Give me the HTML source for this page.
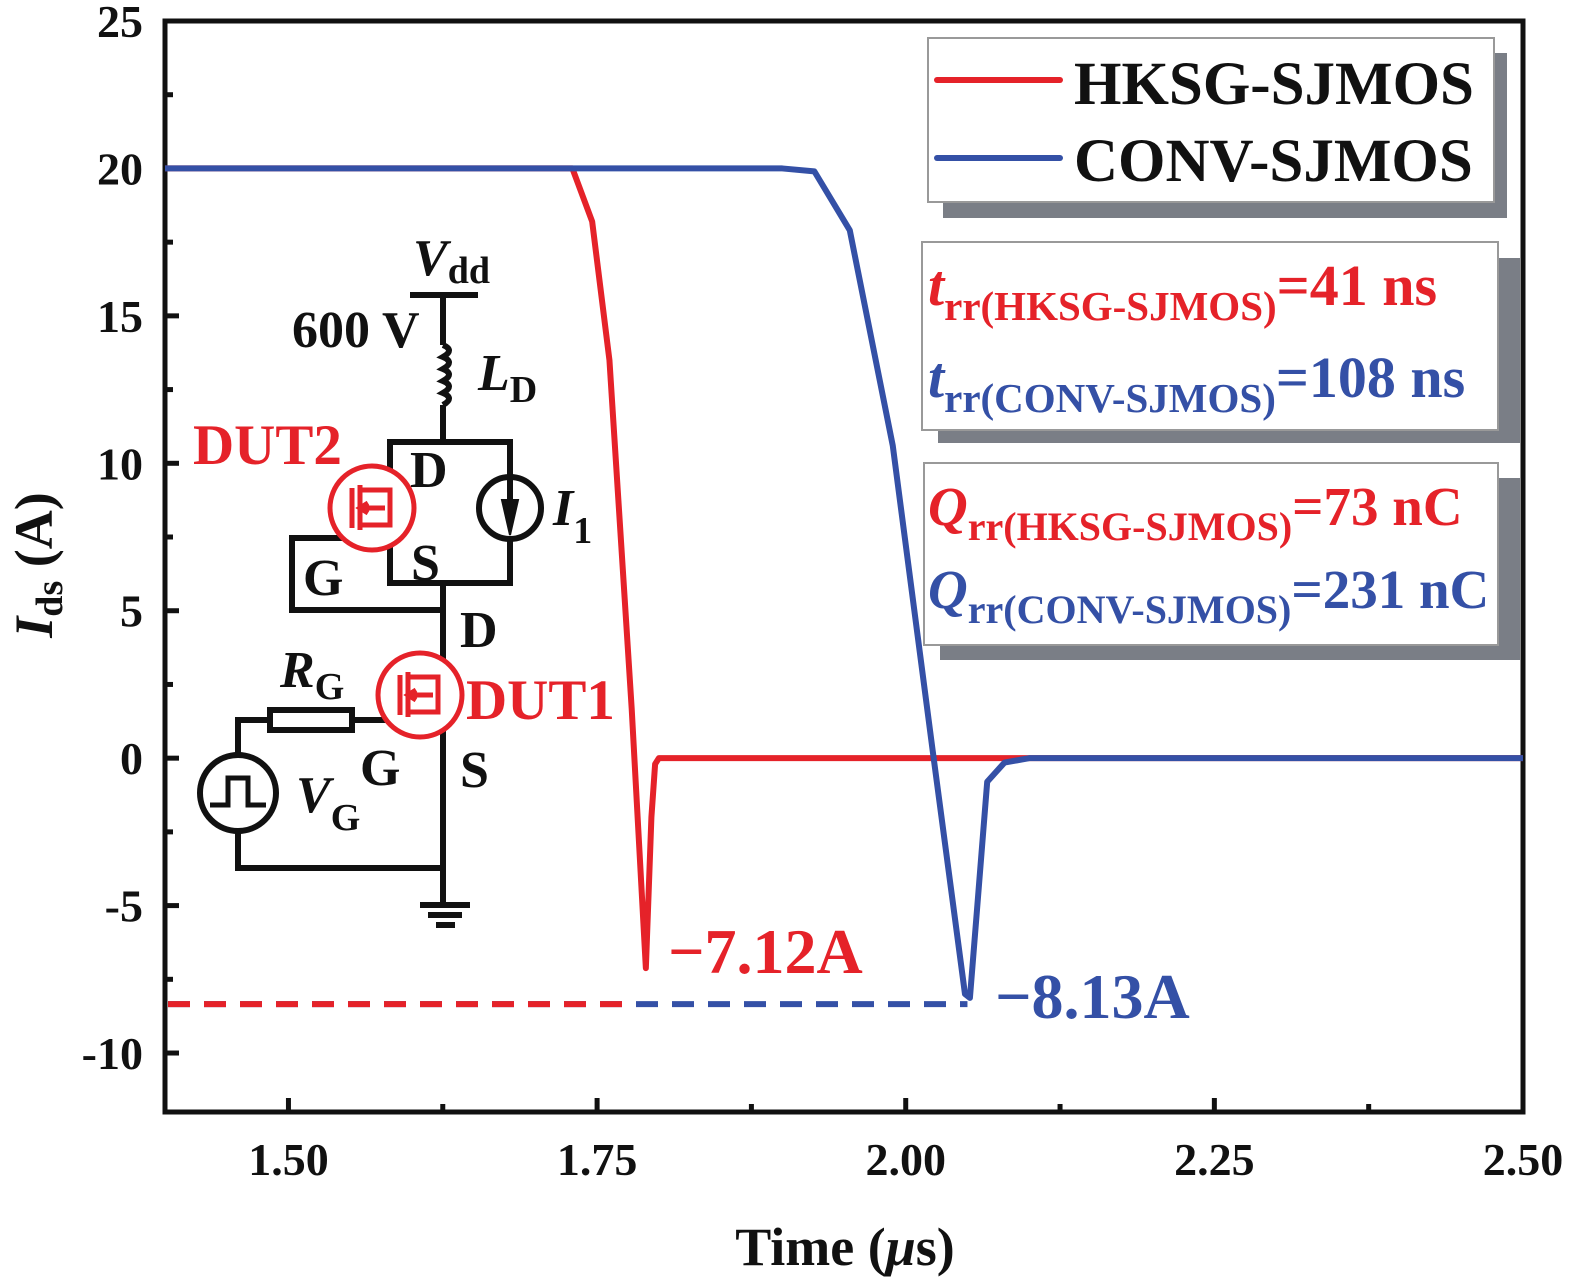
<!DOCTYPE html>
<html><head><meta charset="utf-8"><style>
body{margin:0;background:#fff;}
svg{display:block;font-family:"Liberation Serif",serif;font-weight:bold;}
</style></head><body>
<svg id="chart" width="1575" height="1285" viewBox="0 0 1575 1285">
<g id="axes"></g>
<g id="series"></g>
<g id="circuit" stroke="#111" stroke-width="6" fill="none">
  <line x1="410" y1="295" x2="478" y2="295"/>
  <line x1="443" y1="295" x2="443" y2="345"/>
  <path d="M443 345 q12 5 0 12 q12 5 0 12 q12 5 0 12 q12 5 0 12 q12 5 0 12" />
  <line x1="443" y1="405" x2="443" y2="442"/>
  <path d="M390 442 H510 V583 H390 Z"/>
  <line x1="443" y1="583" x2="443" y2="905"/>
  <path d="M345 538 H292 V610 H443"/>
  <circle cx="510" cy="508" r="31" fill="#fff"/>
  <line x1="510" y1="477" x2="510" y2="515"/>
  <path d="M502 500 L510 535 L518 500 Z" fill="#111" stroke-width="2"/>
  <path d="M390 720 H352 M270 720 H238 V755"/>
  <rect x="270" y="710" width="82" height="20"/>
  <circle cx="238" cy="793" r="38"/>
  <path d="M210 805 H228 V778 H248 V805 H266" stroke-width="5"/>
  <path d="M238 831 V868 H443"/>
  <line x1="420" y1="905" x2="470" y2="905"/>
  <line x1="428" y1="915" x2="462" y2="915"/>
  <line x1="436" y1="925" x2="455" y2="925"/>
  <g stroke="#e52229" stroke-width="5">
    <circle cx="372" cy="508" r="42" fill="#fff"/>
    <path d="M352 488 V528 M360 485 V530 M360 490 H390 V525 H360 M360 508 H385 M368 503 L360 508 L368 513"/>
    <circle cx="420" cy="695" r="42" fill="#fff"/>
    <path d="M400 675 V715 M408 672 V717 M408 677 H438 V712 H408 M408 695 H433 M416 690 L408 695 L416 700"/>
  </g>
</g>
<g font-size="52" fill="#111">
  <text x="413" y="275" font-style="italic">V<tspan font-style="normal" font-size="38" dy="8">dd</tspan></text>
  <text x="292" y="347">600 V</text>
  <text x="478" y="390" font-style="italic">L<tspan font-style="normal" font-size="38" dy="12">D</tspan></text>
  <text x="410" y="487">D</text>
  <text x="411" y="580">S</text>
  <text x="303" y="595">G</text>
  <text x="553" y="525" font-style="italic">I<tspan font-style="normal" font-size="38" dy="18">1</tspan></text>
  <text x="460" y="647">D</text>
  <text x="460" y="787">S</text>
  <text x="360" y="785">G</text>
  <text x="280" y="687" font-style="italic">R<tspan font-style="normal" font-size="38" dy="12">G</tspan></text>
  <text x="296" y="812" font-style="italic">V<tspan font-style="normal" font-size="38" dy="18">G</tspan></text>
  <text x="193" y="464" fill="#e52229" font-size="57">DUT2</text>
  <text x="466" y="719" fill="#e52229" font-size="57">DUT1</text>
  <text x="668" y="973" fill="#e52229" font-size="64">−7.12A</text>
  <text x="995" y="1018" fill="#3450a6" font-size="64">−8.13A</text>
</g>
<g>
  <rect x="943" y="53" width="564" height="165" fill="#7a7e86"/>
  <rect x="928" y="38" width="566" height="164" fill="#fff" stroke="#999" stroke-width="2"/>
  <line x1="937" y1="80" x2="1060" y2="80" stroke="#e52229" stroke-width="6" stroke-linecap="round"/>
  <line x1="937" y1="158" x2="1060" y2="158" stroke="#3450a6" stroke-width="6" stroke-linecap="round"/>
  <text x="1074" y="104" font-size="61" fill="#111">HKSG-SJMOS</text>
  <text x="1074" y="181" font-size="61" fill="#111">CONV-SJMOS</text>
</g>
<g font-size="58">
  <rect x="938" y="258" width="582" height="185" fill="#7a7e86"/>
  <rect x="922" y="242" width="576" height="188" fill="#fff" stroke="#999" stroke-width="2"/>
  <text x="928" y="305" fill="#e52229"><tspan font-style="italic">t</tspan><tspan font-size="41" dy="15">rr(HKSG-SJMOS)</tspan><tspan dy="-15">=41 ns</tspan></text>
  <text x="928" y="397" fill="#3450a6"><tspan font-style="italic">t</tspan><tspan font-size="41" dy="15">rr(CONV-SJMOS)</tspan><tspan dy="-15">=108 ns</tspan></text>
</g>
<g font-size="55">
  <rect x="940" y="478" width="580" height="182" fill="#7a7e86"/>
  <rect x="924" y="463" width="574" height="182" fill="#fff" stroke="#999" stroke-width="2"/>
  <text x="928" y="525" fill="#e52229"><tspan font-style="italic">Q</tspan><tspan font-size="40" dy="15">rr(HKSG-SJMOS)</tspan><tspan dy="-15">=73 nC</tspan></text>
  <text x="928" y="608" fill="#3450a6"><tspan font-style="italic">Q</tspan><tspan font-size="40" dy="15">rr(CONV-SJMOS)</tspan><tspan dy="-15">=231 nC</tspan></text>
</g>
</svg>
<script>
const redT = [1.40, 1.730, 1.746, 1.760, 1.778, 1.7895, 1.794, 1.797, 1.80, 2.50];
const redV = [20, 20, 18.2, 13.5, 1.7, -7.12, -2, -0.2, 0, 0];
const blueT = [1.40, 1.90, 1.926, 1.9547, 1.9895, 2.022, 2.048, 2.052, 2.058, 2.066, 2.08, 2.10, 2.50];
const blueV = [20, 20, 19.9, 17.9, 10.6, 0.2, -8.0, -8.13, -5, -0.8, -0.15, 0, 0];
const dashedLevel = -8.34;
const dashedRedEnd = 1.78;
const dashedBlueEnd = 2.05;
const xTicks = [1.50, 1.75, 2.00, 2.25, 2.50];
const xTickLabels = ["1.50", "1.75", "2.00", "2.25", "2.50"];
const yTicks = [-10, -5, 0, 5, 10, 15, 20, 25];
const yTickLabels = ["-10", "-5", "0", "5", "10", "15", "20", "25"];

const L = 165, R = 1523, T = 21, B = 1112;
const xMin = 1.40, xMax = 2.50, yMin = -12, yMax = 25;
const sx = t => L + (t - xMin) / (xMax - xMin) * (R - L);
const sy = v => B - (v - yMin) / (yMax - yMin) * (B - T);
const NS = "http://www.w3.org/2000/svg";
const axes = document.getElementById('axes');
const series = document.getElementById('series');
function mk(tag, parent, attrs) {
  const e = document.createElementNS(NS, tag);
  for (const k in attrs) e.setAttribute(k, attrs[k]);
  parent.appendChild(e);
  return e;
}
xTicks.forEach((t, i) => {
  const ln = mk('line', axes, {x1: sx(t), x2: sx(t), y1: B, y2: B - 14, stroke: '#111', 'stroke-width': 5});
  
  
  const tx = mk('text', axes, {x: sx(t), y: B + 63, 'text-anchor': 'middle', 'font-size': 46, fill: '#111'});
  tx.textContent = xTickLabels[i];
  
  
  if (i > 0) {
    const m = (xTicks[i] + xTicks[i - 1]) / 2;
    const mn = mk('line', axes, {x1: sx(m), x2: sx(m), y1: B, y2: B - 8, stroke: '#111', 'stroke-width': 5});
    
    
  }
});
yTicks.forEach((v, i) => {
  const ln = mk('line', axes, {x1: L, x2: L + 14, y1: sy(v), y2: sy(v), stroke: '#111', 'stroke-width': 5});
  
  
  const tx = mk('text', axes, {x: 143, y: sy(v) + 16, 'text-anchor': 'end', 'font-size': 46, fill: '#111'});
  tx.textContent = yTickLabels[i];
  
  
  const m = v - 2.5;
  if (m > yMin) {
    const mn = mk('line', axes, {x1: L, x2: L + 8, y1: sy(m), y2: sy(m), stroke: '#111', 'stroke-width': 5});
    
    
  }
});
const frame = mk('rect', axes, {x: L, y: T, width: R - L, height: B - T, fill: 'none', stroke: '#111', 'stroke-width': 5});


const xt = mk('text', axes, {x: 845, y: 1265, 'text-anchor': 'middle', 'font-size': 54, fill: '#111'});
xt.innerHTML = 'Time (<tspan font-style="italic">μ</tspan>s)';


const yt = mk('text', axes, {x: 0, y: 0, 'text-anchor': 'middle', 'font-size': 54, fill: '#111', transform: 'translate(52,565) rotate(-90)'});
yt.innerHTML = '<tspan font-style="italic">I</tspan><tspan font-size="38" dy="10">ds</tspan><tspan dy="-10"> (A)</tspan>';



const db = mk('line', series, {x1: L + 3, x2: sx(dashedBlueEnd), y1: sy(dashedLevel), y2: sy(dashedLevel), stroke: '#3450a6', 'stroke-width': 6, 'stroke-dasharray': '22 14'});


const dr = mk('line', series, {x1: L + 3, x2: sx(dashedRedEnd), y1: sy(dashedLevel), y2: sy(dashedLevel), stroke: '#e52229', 'stroke-width': 6, 'stroke-dasharray': '22 14'});



function pts(ts, vs) { return ts.map((t, i) => sx(t) + ',' + sy(vs[i])).join(' '); }
const red = mk('polyline', series, {points: pts(redT, redV), fill: 'none', stroke: '#e52229', 'stroke-width': 6, 'stroke-linejoin': 'round'});


const blue = mk('polyline', series, {points: pts(blueT, blueV), fill: 'none', stroke: '#3450a6', 'stroke-width': 6, 'stroke-linejoin': 'round'});


</script>
</body></html>
